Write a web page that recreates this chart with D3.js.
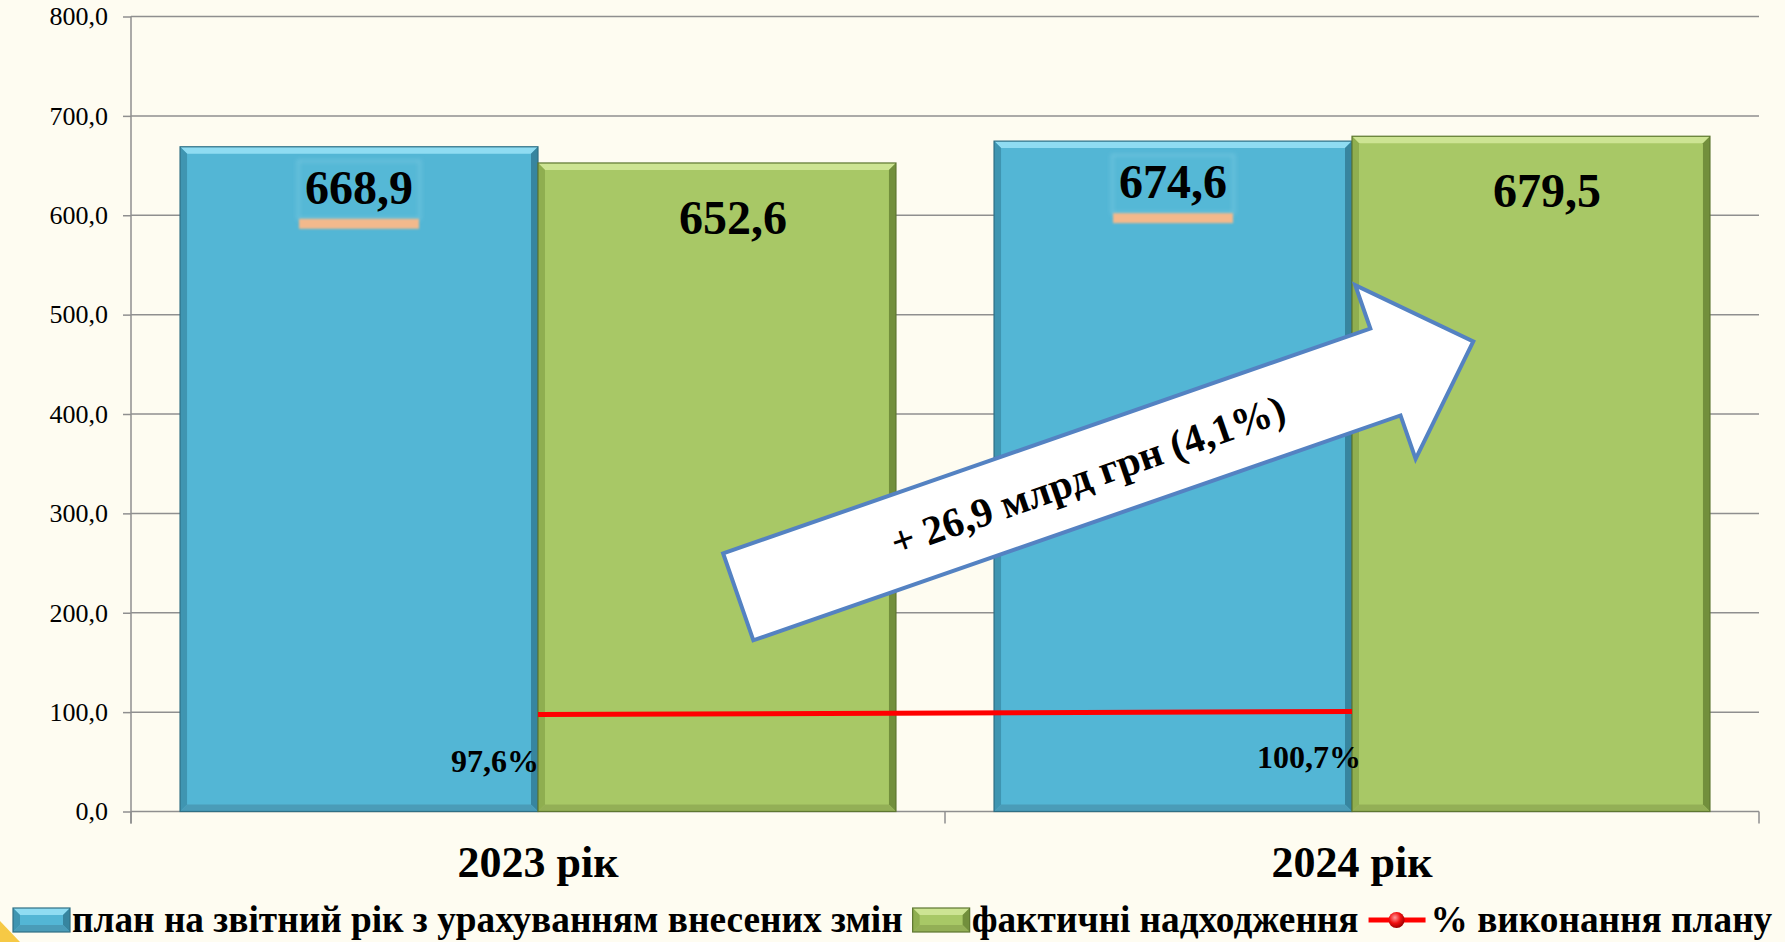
<!DOCTYPE html>
<html>
<head>
<meta charset="utf-8">
<script src="https://cdn.jsdelivr.net/npm/d3@7"></script>
<style>
  body { margin: 0; background: #fefcf1; }
  svg { display: block; font-family: "Liberation Serif", "Times New Roman", serif; }
</style>
</head>
<body>
<script>
// chart data
var categories = ["2023 рік", "2024 рік"];
var planValues = [668.9, 674.6];
var factValues = [652.6, 679.5];
var pctValues = [97.6, 100.7];
var pctLabels = ["97,6%", "100,7%"];
var yTicks = [0, 100, 200, 300, 400, 500, 600, 700, 800];
var seriesNames = ["план на звітний рік з урахуванням внесених змін", "фактичні надходження", "% виконання плану"];
var arrowText = "+ 26,9 млрд грн (4,1%)";
// arrow anchors: category, share of the band, value on the axis
var arrowFrom = {cat: "2023 рік", pos: 0.746, value: 216};
var arrowTo = {cat: "2024 рік", pos: 0.649, value: 473};

var W = 1785, H = 942;
var margin = {top: 16.5, right: 26, bottom: 130.5, left: 131},
    width = W - margin.left - margin.right,
    height = H - margin.top - margin.bottom;

var svg = d3.select("body").append("svg")
    .attr("width", W)
    .attr("height", H);

svg.append("rect").attr("width", W).attr("height", H).attr("fill", "#fefcf1");

// little yellow corner from the slide
svg.append("polygon")
    .attr("points", "0,921 20,942 0,942")
    .attr("fill", "#f6c945");

var defs = svg.append("defs");
defs.append("filter").attr("id", "soft")
    .attr("x", "-20%").attr("y", "-80%").attr("width", "140%").attr("height", "260%")
    .append("feGaussianBlur").attr("stdDeviation", 1.3);
defs.append("filter").attr("id", "glow")
    .attr("x", "-10%").attr("y", "-10%").attr("width", "120%").attr("height", "120%")
    .append("feGaussianBlur").attr("stdDeviation", 2);
var rg = defs.append("radialGradient").attr("id", "dot").attr("cx", "40%").attr("cy", "35%").attr("r", "65%");
rg.append("stop").attr("offset", "0%").attr("stop-color", "#ff9a9a");
rg.append("stop").attr("offset", "55%").attr("stop-color", "#f01010");
rg.append("stop").attr("offset", "100%").attr("stop-color", "#a00000");

var g = svg.append("g")
    .attr("transform", "translate(" + margin.left + "," + margin.top + ")");

// scales
var x0 = d3.scaleBand().domain(categories).range([0, width]).padding(0);
var x1 = d3.scaleBand().domain(["plan", "fact"]).range([0, x0.bandwidth()]).paddingOuter(0.137);
var y = d3.scaleLinear().domain([0, 800]).range([height, 0]);

var fmt = function(v) { return d3.format(".1f")(v).replace(".", ","); };

// gridlines
g.append("g").selectAll("line")
    .data(yTicks.filter(function(d) { return d > 0; }))
    .enter().append("line")
    .attr("x1", 0).attr("x2", width)
    .attr("y1", function(d) { return y(d); })
    .attr("y2", function(d) { return y(d); })
    .attr("stroke", "#8f8f8f").attr("stroke-width", 1.5);

// Y axis
var yAxis = g.append("g")
    .call(d3.axisLeft(y).tickValues(yTicks).tickSize(8).tickPadding(15).tickFormat(fmt));
yAxis.select(".domain").attr("stroke", "#8f8f8f").attr("stroke-width", 1.5)
    .attr("d", "M0," + (height + 12) + "V0");
yAxis.selectAll(".tick line").attr("stroke", "#8f8f8f").attr("stroke-width", 1.5);
yAxis.selectAll(".tick text")
    .attr("font-family", "Liberation Serif")
    .attr("font-size", "26px")
    .attr("fill", "#000");

// X axis line and tick marks at band edges
var xEdges = categories.map(function(c) { return x0(c); }).concat([width]);
g.append("line")
    .attr("x1", 0).attr("x2", width)
    .attr("y1", height).attr("y2", height)
    .attr("stroke", "#8f8f8f").attr("stroke-width", 1.5);
g.append("g").selectAll("line")
    .data(xEdges)
    .enter().append("line")
    .attr("x1", function(d) { return d; }).attr("x2", function(d) { return d; })
    .attr("y1", height).attr("y2", height + 12)
    .attr("stroke", "#8f8f8f").attr("stroke-width", 1.5);

// bevelled bars
var palettes = {
  plan: {base: "#53b6d5", top: "#8fdcf2", left: "#3f95b1", right: "#37859f", bottom: "#4a9cb8", line: "#2f6f84"},
  fact: {base: "#a8c866", top: "#cde493", left: "#8fae50", right: "#728f3c", bottom: "#93af56", line: "#5d7630"}
};

function bevelBar(sel, bx, by, bw, bh, p) {
  var b = 7;
  var gg = sel.append("g");
  gg.append("rect").attr("x", bx).attr("y", by).attr("width", bw).attr("height", bh).attr("fill", p.base);
  gg.append("polygon").attr("fill", p.top)
    .attr("points", [[bx, by], [bx + bw, by], [bx + bw - b, by + b], [bx + b, by + b]].join(" "));
  gg.append("polygon").attr("fill", p.left)
    .attr("points", [[bx, by], [bx + b, by + b], [bx + b, by + bh - b], [bx, by + bh]].join(" "));
  gg.append("polygon").attr("fill", p.right)
    .attr("points", [[bx + bw, by], [bx + bw, by + bh], [bx + bw - b, by + bh - b], [bx + bw - b, by + b]].join(" "));
  gg.append("polygon").attr("fill", p.bottom)
    .attr("points", [[bx, by + bh], [bx + b, by + bh - b], [bx + bw - b, by + bh - b], [bx + bw, by + bh]].join(" "));
  gg.append("rect").attr("x", bx).attr("y", by).attr("width", bw).attr("height", bh)
    .attr("fill", "none").attr("stroke", p.line).attr("stroke-width", 1.2);
}

var barData = [];
categories.forEach(function(c, i) {
  barData.push({cat: c, key: "plan", value: planValues[i]});
  barData.push({cat: c, key: "fact", value: factValues[i]});
});

var bars = g.append("g");
barData.forEach(function(d) {
  bevelBar(bars, x0(d.cat) + x1(d.key), y(d.value), x1.bandwidth(), height - y(d.value), palettes[d.key]);
});

// value labels on bars
barData.forEach(function(d) {
  var cx = x0(d.cat) + x1(d.key) + x1.bandwidth() / 2;
  if (d.key === "plan") {
    var base = y(d.value) + 57;
    g.append("rect")
      .attr("x", cx - 61).attr("y", base - 43).attr("width", 122).attr("height", 58)
      .attr("fill", "#55b8d6").attr("stroke", "#7ccbe3").attr("stroke-width", 1.5)
      .attr("filter", "url(#glow)");
    g.append("rect")
      .attr("x", cx - 60).attr("y", base + 15).attr("width", 120).attr("height", 10)
      .attr("fill", "#f3b98c").attr("filter", "url(#soft)");
    g.append("text")
      .attr("x", cx).attr("y", base)
      .attr("text-anchor", "middle")
      .attr("font-size", "48px").attr("font-weight", "bold")
      .text(fmt(d.value));
  } else {
    g.append("text")
      .attr("x", cx + 16).attr("y", y(d.value) + 71)
      .attr("text-anchor", "middle")
      .attr("font-size", "48px").attr("font-weight", "bold")
      .text(fmt(d.value));
  }
});

// % line
var lineData = categories.map(function(c, i) { return {cat: c, value: pctValues[i], label: pctLabels[i]}; });
var line = d3.line()
    .x(function(d) { return x0(d.cat) + x0.bandwidth() / 2; })
    .y(function(d) { return y(d.value); });
g.append("path")
    .datum(lineData)
    .attr("d", line)
    .attr("fill", "none")
    .attr("stroke", "#ff0000")
    .attr("stroke-width", 5);

g.selectAll(".pct")
    .data(lineData)
    .enter().append("text")
    .attr("class", "pct")
    .attr("x", function(d) { return x0(d.cat) + x0.bandwidth() / 2 - 43; })
    .attr("y", function(d) { return y(d.value) + 57; })
    .attr("text-anchor", "middle")
    .attr("font-size", "32px").attr("font-weight", "bold")
    .text(function(d) { return d.label; });

// category labels
g.selectAll(".cat")
    .data(categories)
    .enter().append("text")
    .attr("class", "cat")
    .attr("x", function(d) { return x0(d) + x0.bandwidth() / 2; })
    .attr("y", height + 65.5)
    .attr("text-anchor", "middle")
    .attr("font-size", "44px").attr("font-weight", "bold")
    .text(function(d) { return d; });

// big arrow
var ax0 = x0(arrowFrom.cat) + x0.bandwidth() * arrowFrom.pos, ay0 = y(arrowFrom.value);
var ax1 = x0(arrowTo.cat) + x0.bandwidth() * arrowTo.pos, ay1 = y(arrowTo.value);
var len = Math.hypot(ax1 - ax0, ay1 - ay0);
var ang = Math.atan2(ay1 - ay0, ax1 - ax0) * 180 / Math.PI;
var shaftHalf = 46, headHalf = 92, headLen = 93;
var arrow = g.append("g")
    .attr("transform", "translate(" + ax0 + "," + ay0 + ") rotate(" + ang + ")");
arrow.append("polygon")
    .attr("points", [[0, -shaftHalf], [len - headLen, -shaftHalf], [len - headLen, -headHalf], [len, 0],
                     [len - headLen, headHalf], [len - headLen, shaftHalf], [0, shaftHalf]].join(" "))
    .attr("fill", "#ffffff")
    .attr("stroke", "#5482c2")
    .attr("stroke-width", 4)
    .attr("stroke-linejoin", "miter");
arrow.append("text")
    .attr("x", 370).attr("y", 14)
    .attr("text-anchor", "middle")
    .attr("font-size", "41px").attr("font-weight", "bold")
    .text(arrowText);

// legend
var legend = svg.append("g").attr("transform", "translate(13,920)");
var lx = 0;
function legendBox(p) {
  bevelBar(legend, lx, -12, 57, 24, p);
  lx += 59;
}
function legendText(t) {
  var tx = legend.append("text")
      .attr("x", lx).attr("y", 12)
      .attr("font-size", "37.3px").attr("font-weight", "bold")
      .text(t);
  lx += tx.node().getComputedTextLength() + 10;
}
legendBox(palettes.plan);
legendText(seriesNames[0]);
legendBox(palettes.fact);
legendText(seriesNames[1]);
legend.append("line").attr("x1", lx).attr("x2", lx + 57).attr("y1", 0).attr("y2", 0)
    .attr("stroke", "#ff0000").attr("stroke-width", 5);
legend.append("circle").attr("cx", lx + 28).attr("cy", 0).attr("r", 8).attr("fill", "url(#dot)");
lx += 62;
legendText(seriesNames[2]);
</script>
</body>
</html>
